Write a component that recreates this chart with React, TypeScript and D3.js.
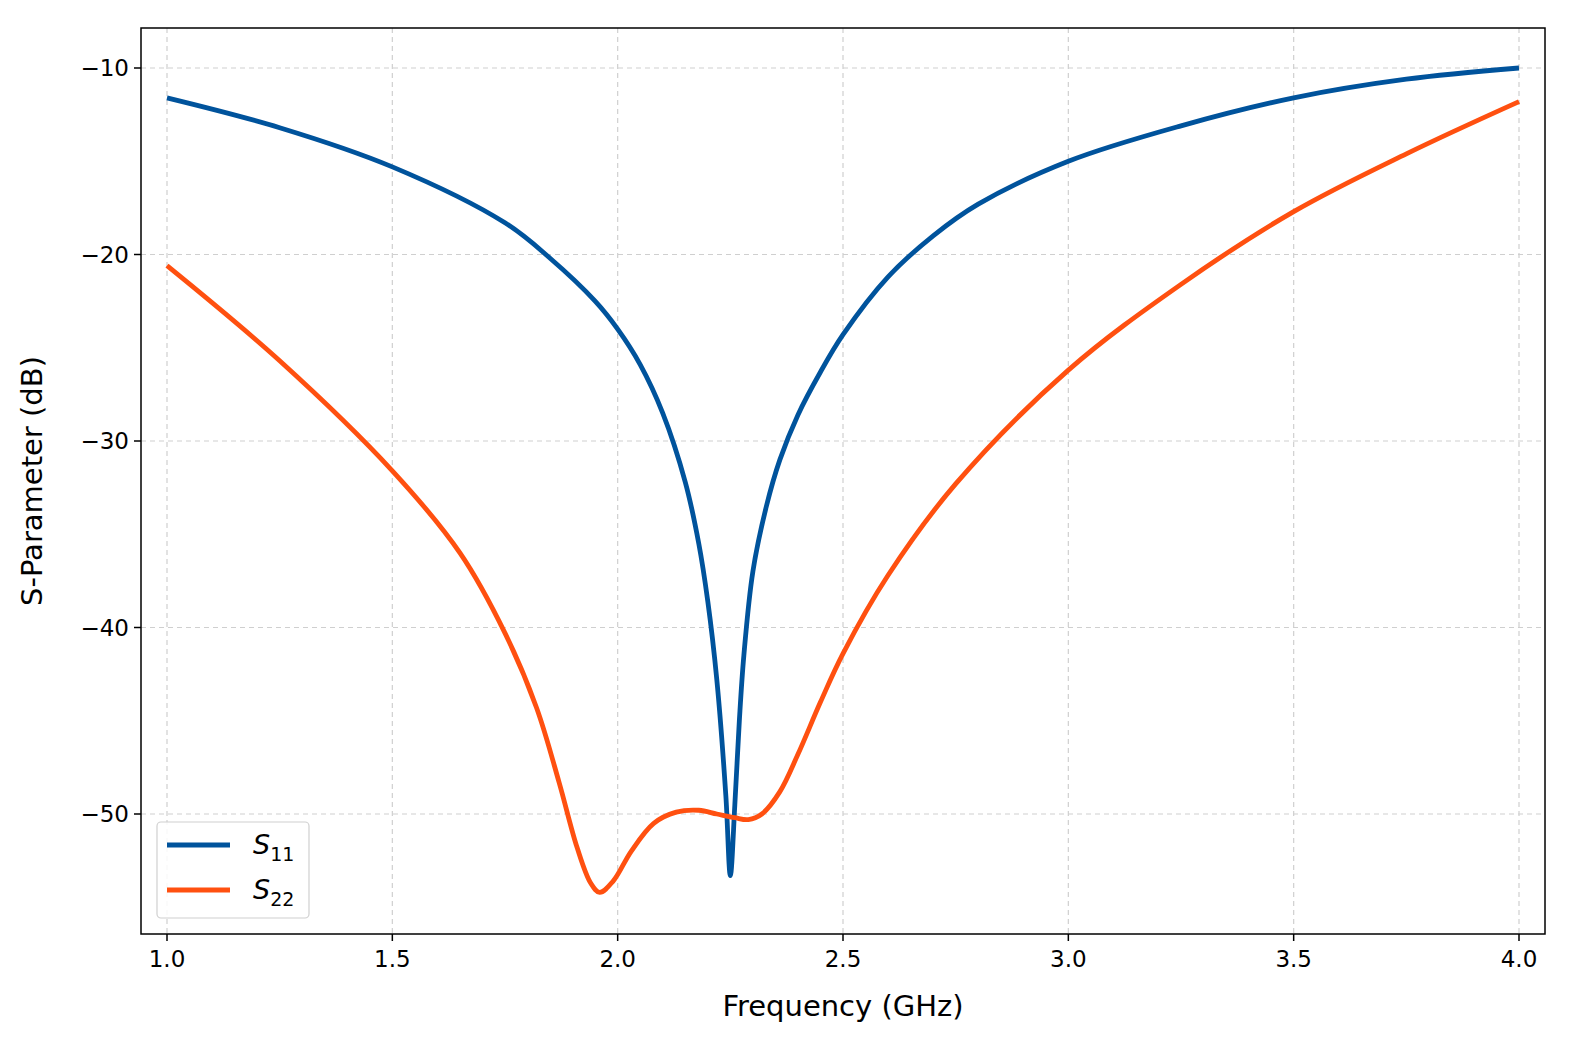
import { useEffect } from "react";
import * as d3 from "d3";

const freq11 = [1.0, 1.25, 1.5, 1.75, 1.85, 1.95, 2.0, 2.05, 2.1, 2.15, 2.18, 2.2, 2.22, 2.24, 2.25, 2.26, 2.27, 2.28, 2.3, 2.33, 2.36, 2.4, 2.45, 2.5, 2.6, 2.7, 2.8, 3.0, 3.25, 3.5, 3.75, 4.0];
const s11 = [-11.6, -13.2, -15.3, -18.3, -20.2, -22.5, -24.0, -25.9, -28.5, -32.2, -35.5, -38.6, -42.8, -49.0, -53.3, -49.5, -45.0, -41.5, -37.0, -33.5, -31.0, -28.6, -26.3, -24.3, -21.2, -19.0, -17.3, -15.0, -13.1, -11.6, -10.6, -10.0];
const freq22 = [1.0, 1.25, 1.5, 1.65, 1.75, 1.82, 1.87, 1.91, 1.94, 1.96, 1.99, 2.03, 2.08, 2.13, 2.18, 2.22, 2.26, 2.29, 2.32, 2.36, 2.4, 2.45, 2.5, 2.6, 2.75, 3.0, 3.25, 3.5, 3.75, 4.0];
const s22 = [-20.6, -25.7, -31.6, -36.0, -40.3, -44.3, -48.3, -51.8, -53.7, -54.2, -53.6, -52.0, -50.5, -49.9, -49.8, -50.0, -50.2, -50.3, -50.0, -48.8, -46.8, -44.0, -41.4, -37.2, -32.3, -26.2, -21.6, -17.7, -14.6, -11.8];
const xTicks = [1.0, 1.5, 2.0, 2.5, 3.0, 3.5, 4.0];
const yTicks = [-10, -20, -30, -40, -50];

const BLUE = "#00539c";
const ORANGE = "#ff5010";
const FONT = "DejaVu Sans, sans-serif";

export default function App() {
  useEffect(() => { document.body.style.margin = "0"; }, []);
  const L = 141, R = 1545, T = 28, B = 934;
  const x = d3.scaleLinear().domain([1.0, 4.0]).range([167, 1519]);
  const y = d3.scaleLinear().domain([-10, -50]).range([68, 814]);
  const line = d3.line<[number, number]>().x(d => x(d[0])).y(d => y(d[1])).curve(d3.curveCatmullRom.alpha(0.5));
  const p11 = line(freq11.map((f, i) => [f, s11[i]] as [number, number]))!;
  const p22 = line(freq22.map((f, i) => [f, s22[i]] as [number, number]))!;

  return (
    <svg width={1592} height={1056} style={{ display: "block", fontFamily: FONT }}>
      <rect width={1592} height={1056} fill="#fff" />
      <defs><clipPath id="c"><rect x={L} y={T} width={R - L} height={B - T} /></clipPath></defs>
      {xTicks.map(t => (
        <line key={"gx" + t} x1={x(t)} x2={x(t)} y1={T} y2={B} stroke="#cfcfcf" strokeWidth={1.2} strokeDasharray="5,4" />
      ))}
      {yTicks.map(t => (
        <line key={"gy" + t} x1={L} x2={R} y1={y(t)} y2={y(t)} stroke="#cfcfcf" strokeWidth={1.2} strokeDasharray="5,4" />
      ))}
      <g clipPath="url(#c)" fill="none" strokeWidth={4.8} strokeLinejoin="round">
        <path d={p11} stroke={BLUE} />
        <path d={p22} stroke={ORANGE} />
      </g>
      <rect x={L} y={T} width={R - L} height={B - T} fill="none" stroke="#000" strokeWidth={1.5} />
      {xTicks.map(t => (
        <g key={"tx" + t}>
          <line x1={x(t)} x2={x(t)} y1={B} y2={B + 7} stroke="#000" strokeWidth={1.5} />
          <text x={x(t)} y={B + 33} textAnchor="middle" fontSize={23}>{t.toFixed(1)}</text>
        </g>
      ))}
      {yTicks.map(t => (
        <g key={"ty" + t}>
          <line x1={L - 7} x2={L} y1={y(t)} y2={y(t)} stroke="#000" strokeWidth={1.5} />
          <text x={L - 12} y={y(t) + 8} textAnchor="end" fontSize={23}>{"\u2212" + Math.abs(t)}</text>
        </g>
      ))}
      <text x={(L + R) / 2} y={1016} textAnchor="middle" fontSize={29}>Frequency (GHz)</text>
      <text transform={`translate(42,${(T + B) / 2}) rotate(-90)`} textAnchor="middle" fontSize={29}>S-Parameter (dB)</text>
      <g>
        <rect x={157} y={822} width={152} height={96} rx={4} fill="#fff" fillOpacity={0.85} stroke="#d0d0d0" strokeWidth={1.2} />
        <line x1={167} x2={230} y1={845} y2={845} stroke={BLUE} strokeWidth={4.8} />
        <line x1={167} x2={230} y1={890} y2={890} stroke={ORANGE} strokeWidth={4.8} />
        <text x={253} y={854} fontSize={27} fontStyle="italic">S<tspan fontSize={19} fontStyle="normal" dy={7}>11</tspan></text>
        <text x={253} y={899} fontSize={27} fontStyle="italic">S<tspan fontSize={19} fontStyle="normal" dy={7}>22</tspan></text>
      </g>
    </svg>
  );
}
